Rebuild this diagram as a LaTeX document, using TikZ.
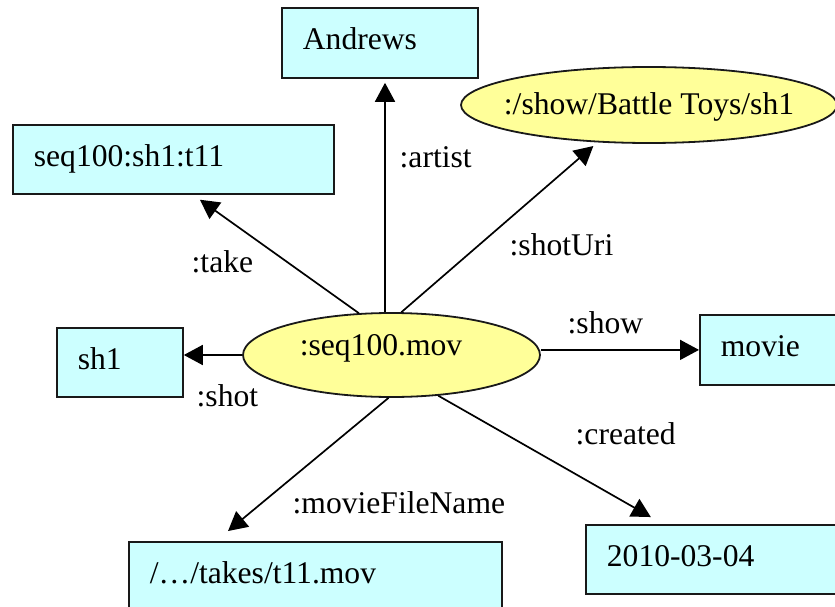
\documentclass[tikz,border=0pt]{standalone}
\usepackage{fontspec}
\setmainfont{Liberation Serif}
\usetikzlibrary{arrows.meta,shapes.geometric}
\definecolor{boxcyan}{HTML}{CCFFFF}
\definecolor{ovalyellow}{HTML}{FFFF99}
\begin{document}
\begin{tikzpicture}[x=1pt,y=-1pt,
  every node/.style={font=\fontsize{31.6}{38}\selectfont},
  box/.style={draw=black!90, line width=1.8pt, fill=boxcyan, rectangle,
    anchor=north west, inner xsep=21pt, inner ysep=0pt, align=left,
    text height=21.7pt, text depth=7.75pt},
  oval/.style={draw=black!90, line width=1.8pt, fill=ovalyellow, ellipse,
    inner sep=0pt},
  edge/.style={line width=1.7pt, -{Triangle[length=19pt,width=20pt]}},
  lbl/.style={anchor=base west, inner sep=0pt}]
\useasboundingbox (0,0) rectangle (835,607);
\clip (0,0) rectangle (835,607);

% resource nodes
\node[oval, minimum width=297pt, minimum height=84pt,
      text height=15pt, text depth=15pt] (c) at (391.5,355) {:seq100.mov\hspace*{21pt}};
\node[oval, minimum width=376pt, minimum height=76pt, inner xsep=-13pt,
      text height=21.7pt, text depth=3pt] (uri) at (649,105) {:/show/Battle Toys/sh1};

% literal boxes
\node[box, text width=154pt, minimum height=70pt] (andrews) at (281,7) {Andrews};
\node[box, text width=279pt, minimum height=69pt] (take) at (12,124) {seq100:sh1:t11};
\node[box, text width=84pt, minimum height=69pt] (sh1) at (56,327) {sh1};
\node[box, text width=128pt, minimum height=70pt] (movie) at (699,314) {movie};
\node[box, text width=331pt, minimum height=70pt] (file) at (128,541) {/…/takes/t11.mov};
\node[box, text width=228pt, minimum height=69pt] (created) at (585,524) {2010-03-04};

% properties
\draw[edge, shorten >=4pt] ([xshift=-6.5pt]c.north) -- ([xshift=-6.5pt]c.north |- andrews.south);
\draw[edge, shorten >=8.5pt] (c.128) -- ([xshift=181pt]take.south west);
\draw[edge, shorten >=5.5pt] (c.77) -- (uri.216);
\draw[edge] (c.west) -- (c.west -| sh1.east);
\draw[edge] (movie.west -| c.east) -- (movie.west);
\draw[edge, shorten >=14pt] (c.319) -- ([xshift=78pt]created.north west);
\draw[edge, shorten >=15.6pt] (c.266) -- ([xshift=88pt]file.north west);

% property labels
\node[lbl] (l-artist) at (399.5,167) {:artist};
\node[lbl] (l-take) at (191.5,272) {:take};
\node[lbl] (l-uri) at (509.5,255) {:shotUri};
\node[lbl] (l-shot) at (196.5,406) {:shot};
\node[lbl] (l-show) at (567.5,333) {:show};
\node[lbl] (l-created) at (575.5,444) {:created};
\node[lbl] (l-file) at (292.5,513) {:movieFileName};
\end{tikzpicture}
\end{document}
